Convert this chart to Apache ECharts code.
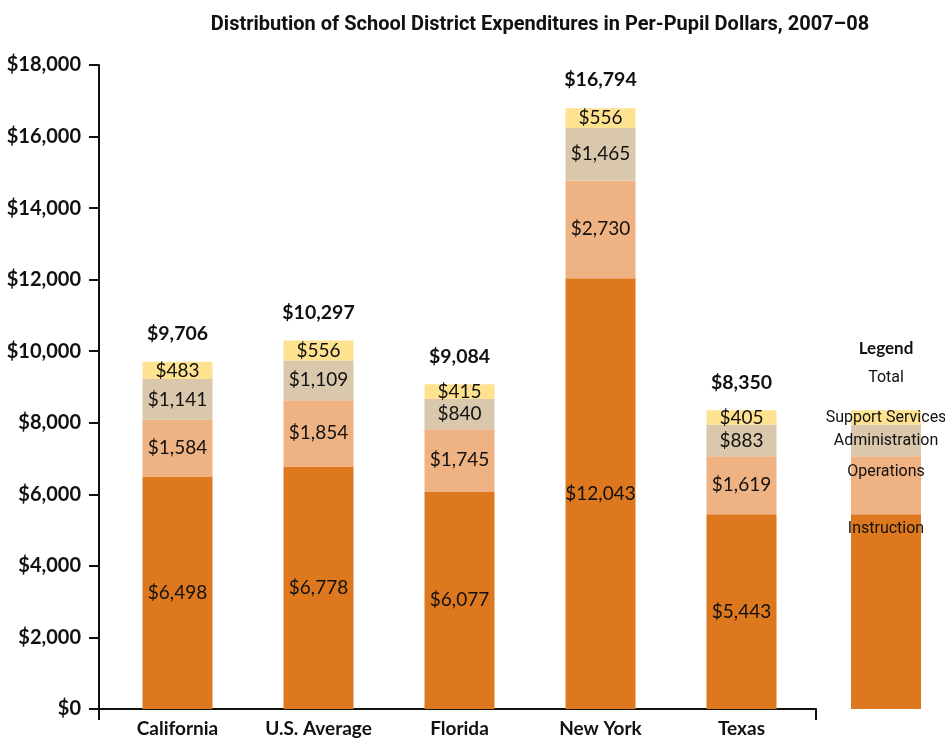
<!DOCTYPE html>
<html><head><meta charset="utf-8">
<script src="https://cdn.jsdelivr.net/npm/echarts@6/dist/echarts.min.js"></script>
<style>html,body{margin:0;padding:0;background:#fff}#c{width:945px;height:740px}</style>
</head><body><div id="c"></div>
<script>
const categories = ['California', 'U.S. Average', 'Florida', 'New York', 'Texas'];
const instruction = [6498, 6778, 6077, 12043, 5443];
const operations = [1584, 1854, 1745, 2730, 1619];
const administration = [1141, 1109, 840, 1465, 883];
const supportServices = [483, 556, 415, 556, 405];
const totals = [9706, 10297, 9084, 16794, 8350];
const legendBar = [5443, 1619, 883, 405];
const legendNames = ['Instruction', 'Operations', 'Administration', 'Support Services', 'Total'];

const colors = ['#DE781F', '#EFB283', '#D9C8AB', '#FEE290'];
const numFont = "Lato, 'Noto Sans', sans-serif";
const condFont = "'Liberation Sans Narrow', Roboto, 'Noto Sans', sans-serif";
const fmt = v => '$' + v.toLocaleString('en-US');

const chart = echarts.init(document.getElementById('c'));
const seriesData = [instruction, operations, administration, supportServices];
const series = seriesData.map((arr, i) => ({
  type: 'bar', stack: 'a', xAxisIndex: 0, yAxisIndex: 0, barWidth: 70,
  data: arr, itemStyle: { color: colors[i] },
  label: { show: true, position: 'inside', formatter: p => fmt(p.value),
    color: '#111', fontFamily: numFont, fontSize: 19 }
}));
series.push({
  type: 'bar', stack: 'a', xAxisIndex: 0, yAxisIndex: 0, barWidth: 70,
  data: totals.map(() => 0), itemStyle: { color: 'transparent' },
  label: { show: true, position: 'top', distance: 18, formatter: p => fmt(totals[p.dataIndex]),
    color: '#111', fontFamily: numFont, fontSize: 19.5, fontWeight: 'bold' }
});
// legend bar
legendBar.forEach((v, i) => {
  series.push({
    type: 'bar', stack: 'l', xAxisIndex: 2, yAxisIndex: 2, barWidth: '100%',
    data: [v], itemStyle: { color: colors[i] },
    label: { show: true, position: i < 2 ? 'insideTop' : 'inside', distance: i === 0 ? 7 : 8,
      formatter: legendNames[i], color: '#111', fontFamily: condFont, fontSize: 16 }
  });
});
series.push({
  type: 'bar', stack: 'l', xAxisIndex: 2, yAxisIndex: 2, barWidth: '100%',
  data: [0], itemStyle: { color: 'transparent' },
  label: { show: true, position: 'top', distance: 22,
    formatter: '{b|Legend}\n{n|Total}',
    rich: {
      b: { fontFamily: numFont, fontWeight: 'bold', fontSize: 17, color: '#111', lineHeight: 40 },
      n: { fontFamily: condFont, fontSize: 16, color: '#111', lineHeight: 20 }
    } }
});

chart.setOption({
  animation: false,
  title: { text: 'Distribution of School District Expenditures in Per-Pupil Dollars, 2007–08',
    left: 535, top: 10, textAlign: 'center',
    textStyle: { fontFamily: "Roboto, sans-serif", fontWeight: 'bold', fontSize: 20, color: '#111' } },
  grid: [
    { left: 107, right: 133, top: 65, bottom: 31 },
    { left: 99, right: 129, top: 65, bottom: 31 },
    { left: 851, width: 70, top: 65, bottom: 31 }
  ],
  xAxis: [
    { type: 'category', gridIndex: 0, data: categories,
      axisLine: { show: false }, axisTick: { show: false },
      axisLabel: { color: '#111', fontFamily: numFont, fontWeight: 'bold', fontSize: 19, margin: 10 } },
    { type: 'value', gridIndex: 1, min: 0, max: 1, interval: 1, position: 'bottom',
      axisLine: { show: true, lineStyle: { color: '#111', width: 2 } }, splitLine: { show: false }, axisLabel: { show: false },
      axisTick: { show: true, length: 11, lineStyle: { color: '#111', width: 2 } } },
    { type: 'category', gridIndex: 2, data: [''], show: false }
  ],
  yAxis: [
    { type: 'value', gridIndex: 0, min: 0, max: 18000, show: false },
    { type: 'value', gridIndex: 1, min: 0, max: 18000, interval: 2000,
      splitLine: { show: false },
      axisLine: { show: true, lineStyle: { color: '#111', width: 2 } },
      axisTick: { show: true, length: 10, lineStyle: { color: '#111', width: 2 } },
      axisLabel: { formatter: v => fmt(v), color: '#111', fontFamily: numFont, fontWeight: 'bold', fontSize: 20, margin: 18 } },
    { type: 'value', gridIndex: 2, min: 0, max: 18000, show: false }
  ],
  series
});
</script></body></html>
